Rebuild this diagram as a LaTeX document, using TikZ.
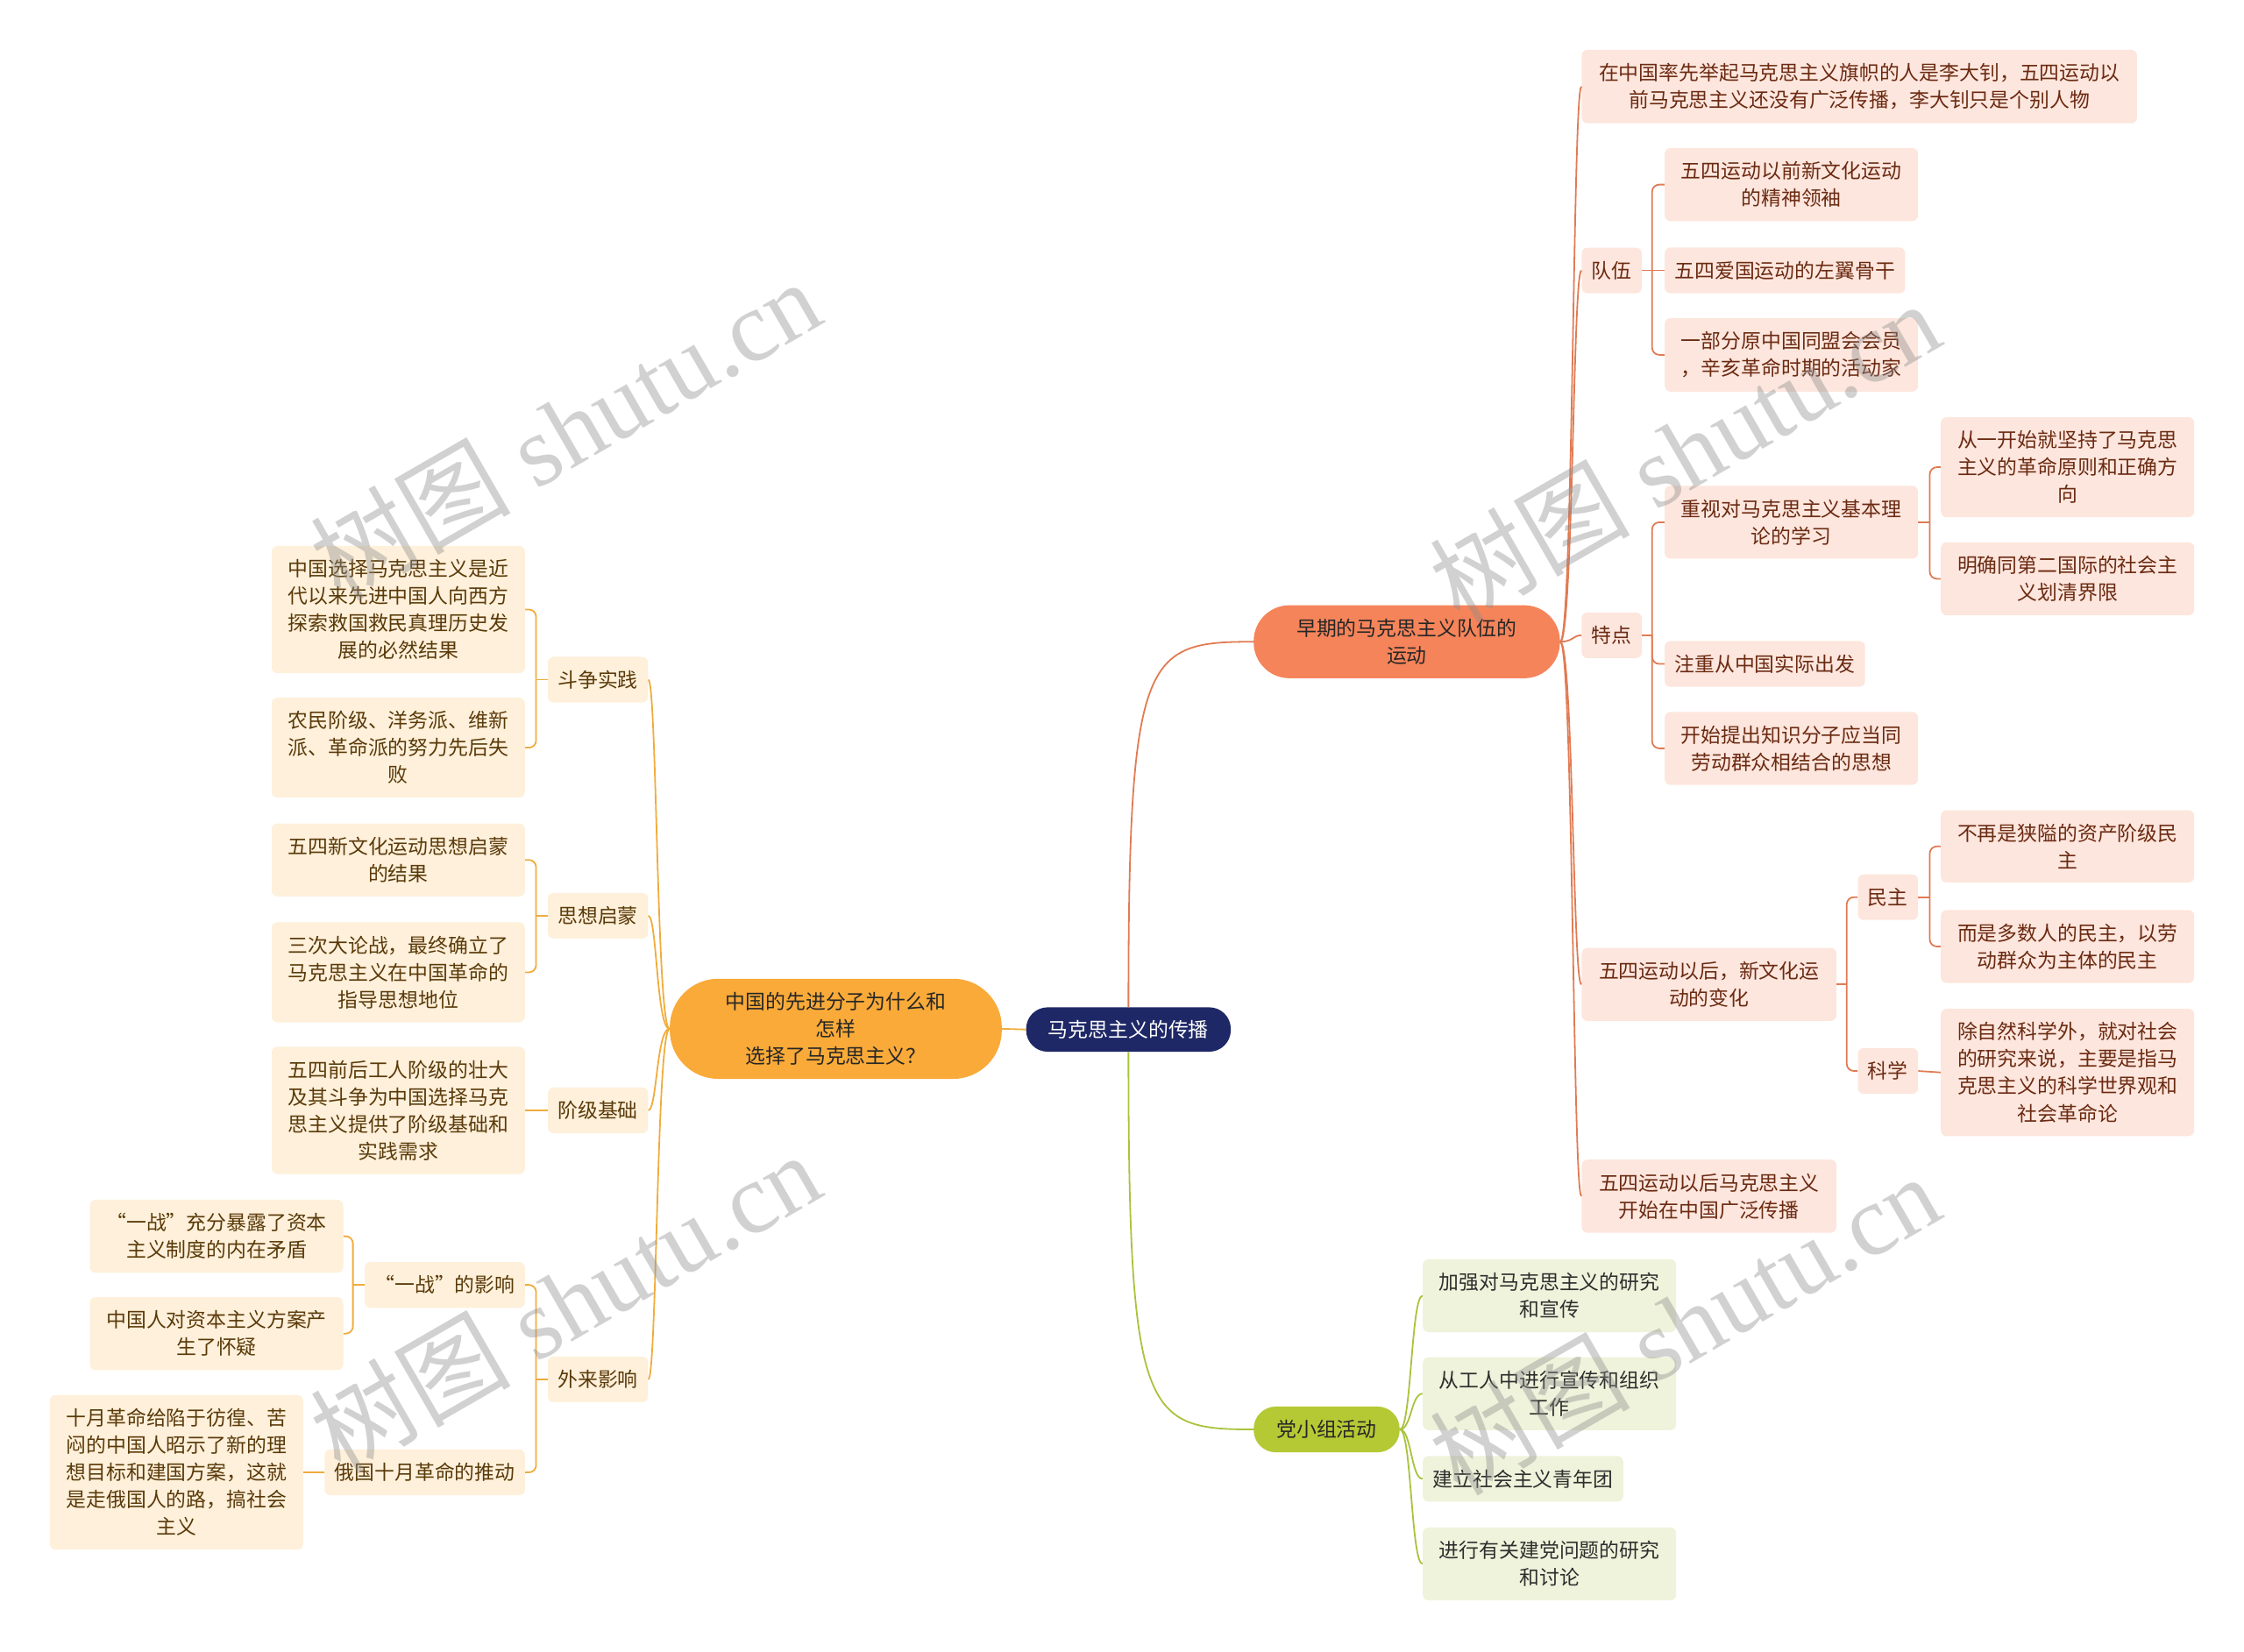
\documentclass[tikz,border=0pt]{standalone}
\usepackage{fontspec}
\setmainfont{Noto Sans CJK SC}
\newfontfamily\wmlatin{Liberation Serif}
\newfontfamily\wmcjk{Noto Sans CJK SC}
\usetikzlibrary{shapes.misc}
\definecolor{navy}{HTML}{1F2866}
\definecolor{omain}{HTML}{F9AA38}
\definecolor{smainc}{HTML}{F5845A}
\definecolor{gmainc}{HTML}{B5C935}
\definecolor{sline}{HTML}{E07B53}
\definecolor{sfill}{HTML}{FDE6DD}
\definecolor{stext}{HTML}{6B2A12}
\definecolor{lline}{HTML}{F0AC3C}
\definecolor{lfill}{HTML}{FEF0DA}
\definecolor{ltext}{HTML}{5A3A0A}
\definecolor{gline}{HTML}{A8C33C}
\definecolor{gfill}{HTML}{EFF3DB}
\definecolor{gtext}{HTML}{2E2E2E}
\begin{document}
\begin{tikzpicture}[x=1pt,y=-1pt,
  every node/.style={font=\fontsize{14}{19}\selectfont, align=center},
  box/.style={rectangle, rounded corners=4pt, inner xsep=7pt, inner ysep=9.5pt, minimum height=31pt},
  sbox/.style={box, fill=sfill, text=stext, anchor=west},
  lbox/.style={box, fill=lfill, text=ltext, anchor=east},
  gbox/.style={box, fill=gfill, text=gtext, anchor=west},
  wbox/.style={minimum width=177pt},
  mainbox/.style={rectangle, inner sep=0pt, text=black!85},
  sln/.style={draw=sline, line width=1.1pt},
  lln/.style={draw=lline, line width=1.1pt},
  gln/.style={draw=gline, line width=1.1pt},
  brk/.style={rounded corners=5pt},
  wm/.style={rotate=30, text=black!45, text opacity=0.4, font=\fontsize{70}{70}\selectfont}
]
\useasboundingbox (0,0) rectangle (1568,1154);

% main nodes
\node[mainbox, fill=navy, text=white, rounded corners=15pt, minimum width=143pt, minimum height=31pt] (c) at (788.5,719.5) {马克思主义的传播};
\node[mainbox, fill=omain, rounded corners=34pt, minimum width=232pt, minimum height=70pt] (lmain) at (584,719) {中国的先进分子为什么和\\怎样\\选择了马克思主义？};
\node[mainbox, fill=smainc, rounded corners=25pt, minimum width=214pt, minimum height=51pt] (smain) at (983,448.5) {早期的马克思主义队伍的\\运动};
\node[mainbox, fill=gmainc, rounded corners=15.5pt, minimum width=102pt, minimum height=32pt] (gmain) at (927,999) {党小组活动};

% salmon branch
\node[sbox, minimum width=388pt] (A1) at (1105,60.5) {在中国率先举起马克思主义旗帜的人是李大钊，五四运动以\\前马克思主义还没有广泛传播，李大钊只是个别人物};
\node[sbox] (A2) at (1105,189) {队伍};
\node[sbox] (A3) at (1105,444) {特点};
\node[sbox, minimum width=178pt] (A4) at (1105,688) {五四运动以后，新文化运\\动的变化};
\node[sbox, minimum width=178pt] (A5) at (1105,836) {五四运动以后马克思主义\\开始在中国广泛传播};

\node[sbox, wbox] (B1) at (1163,129) {五四运动以前新文化运动\\的精神领袖};
\node[sbox] (B2) at (1163,189) {五四爱国运动的左翼骨干};
\node[sbox, wbox] (B3) at (1163,248) {一部分原中国同盟会会员\\，辛亥革命时期的活动家};

\node[sbox, wbox] (C1) at (1163,365) {重视对马克思主义基本理\\论的学习};
\node[sbox] (C2) at (1163,464) {注重从中国实际出发};
\node[sbox, wbox] (C3) at (1163,523) {开始提出知识分子应当同\\劳动群众相结合的思想};

\node[sbox, wbox] (D1) at (1356,326.5) {从一开始就坚持了马克思\\主义的革命原则和正确方\\向};
\node[sbox, wbox] (D2) at (1356,404.5) {明确同第二国际的社会主\\义划清界限};

\node[sbox] (E1) at (1298,627) {民主};
\node[sbox] (E2) at (1298,748.5) {科学};
\node[sbox, wbox] (F1) at (1356,591.5) {不再是狭隘的资产阶级民\\主};
\node[sbox, wbox] (F2) at (1356,661.5) {而是多数人的民主，以劳\\动群众为主体的民主};
\node[sbox, wbox] (F3) at (1356,749.5) {除自然科学外，就对社会\\的研究来说，主要是指马\\克思主义的科学世界观和\\社会革命论};

% green branch
\node[gbox, wbox] (G1) at (994,905.5) {加强对马克思主义的研究\\和宣传};
\node[gbox, wbox] (G2) at (994,974) {从工人中进行宣传和组织\\工作};
\node[gbox] (G3) at (994,1033.5) {建立社会主义青年团};
\node[gbox, wbox] (G4) at (994,1093) {进行有关建党问题的研究\\和讨论};

% left branch
\node[lbox] (H1) at (453,475) {斗争实践};
\node[lbox] (H2) at (453,640) {思想启蒙};
\node[lbox] (H3) at (453,776) {阶级基础};
\node[lbox] (H4) at (453,964) {外来影响};

\node[lbox, wbox] (I1) at (367,426) {中国选择马克思主义是近\\代以来先进中国人向西方\\探索救国救民真理历史发\\展的必然结果};
\node[lbox, wbox] (I2) at (367,522.5) {农民阶级、洋务派、维新\\派、革命派的努力先后失\\败};
\node[lbox, wbox] (I3) at (367,601) {五四新文化运动思想启蒙\\的结果};
\node[lbox, wbox] (I4) at (367,679.5) {三次大论战，最终确立了\\马克思主义在中国革命的\\指导思想地位};
\node[lbox, wbox] (I5) at (367,776) {五四前后工人阶级的壮大\\及其斗争为中国选择马克\\思主义提供了阶级基础和\\实践需求};

\node[lbox] (J1) at (367,898) {“一战”的影响};
\node[lbox] (J2) at (367,1029) {俄国十月革命的推动};
\node[lbox, wbox] (K1) at (240,864) {“一战”充分暴露了资本\\主义制度的内在矛盾};
\node[lbox, wbox] (K2) at (240,932) {中国人对资本主义方案产\\生了怀疑};
\node[lbox, wbox] (K3) at (212,1029) {十月革命给陷于彷徨、苦\\闷的中国人昭示了新的理\\想目标和建国方案，这就\\是走俄国人的路，搞社会\\主义};

% connectors from center
\draw[lln] (c.west) -- (lmain.east);
\draw[sln] (c.north) .. controls +(0,-247) and +(-76,0) .. (smain.west);
\draw[gln] (c.south) .. controls +(0,255) and +(-76,0) .. (gmain.west);

% salmon level 1
\foreach \n in {A1,A2,A3,A4,A5}
  \draw[sln] (smain.east) .. controls +(9,0) and +(-6,0) .. (\n.west);

% salmon brackets
\coordinate (tA2) at ([xshift=7pt]A2.east);
\draw[sln] (A2.east) -- (tA2);
\draw[sln, brk] (tA2) |- (B1.west);
\draw[sln] (tA2) -- (B2.west);
\draw[sln, brk] (tA2) |- (B3.west);

\coordinate (tA3) at ([xshift=7pt]A3.east);
\draw[sln] (A3.east) -- (tA3);
\foreach \n in {C1,C2,C3} \draw[sln, brk] (tA3) |- (\n.west);

\coordinate (tC1) at ([xshift=8pt]C1.east);
\draw[sln] (C1.east) -- (tC1);
\foreach \n in {D1,D2} \draw[sln, brk] (tC1) |- (\n.west);

\coordinate (tA4) at ([xshift=7pt]A4.east);
\draw[sln] (A4.east) -- (tA4);
\foreach \n in {E1,E2} \draw[sln, brk] (tA4) |- (\n.west);

\coordinate (tE1) at ([xshift=8pt]E1.east);
\draw[sln] (E1.east) -- (tE1);
\foreach \n in {F1,F2} \draw[sln, brk] (tE1) |- (\n.west);
\draw[sln] (E2.east) -- (F3.west);

% green level 1
\foreach \n in {G1,G2,G3,G4}
  \draw[gln] (gmain.east) .. controls +(8,0) and +(-8,0) .. (\n.west);

% left level 1
\foreach \n in {H1,H2,H3,H4}
  \draw[lln] (lmain.west) .. controls +(-9,0) and +(6,0) .. (\n.east);

% left brackets
\coordinate (tH1) at ([xshift=-8pt]H1.west);
\draw[lln] (H1.west) -- (tH1);
\foreach \n in {I1,I2} \draw[lln, brk] (tH1) |- (\n.east);

\coordinate (tH2) at ([xshift=-8pt]H2.west);
\draw[lln] (H2.west) -- (tH2);
\foreach \n in {I3,I4} \draw[lln, brk] (tH2) |- (\n.east);

\draw[lln] (H3.west) -- (I5.east);

\coordinate (tH4) at ([xshift=-8pt]H4.west);
\draw[lln] (H4.west) -- (tH4);
\foreach \n in {J1,J2} \draw[lln, brk] (tH4) |- (\n.east);

\coordinate (tJ1) at ([xshift=-8pt]J1.west);
\draw[lln] (J1.west) -- (tJ1);
\foreach \n in {K1,K2} \draw[lln, brk] (tJ1) |- (\n.east);
\draw[lln] (J2.west) -- (K3.east);

% watermarks
\node[wm] (w1) at (395,300) {\wmcjk 树图\wmlatin{} shutu.cn};
\node[wm] (w2) at (395,910) {\wmcjk 树图\wmlatin{} shutu.cn};
\node[wm] (w3) at (1177,315) {\wmcjk 树图\wmlatin{} shutu.cn};
\node[wm] (w4) at (1177,925) {\wmcjk 树图\wmlatin{} shutu.cn};
\end{tikzpicture}
\end{document}
